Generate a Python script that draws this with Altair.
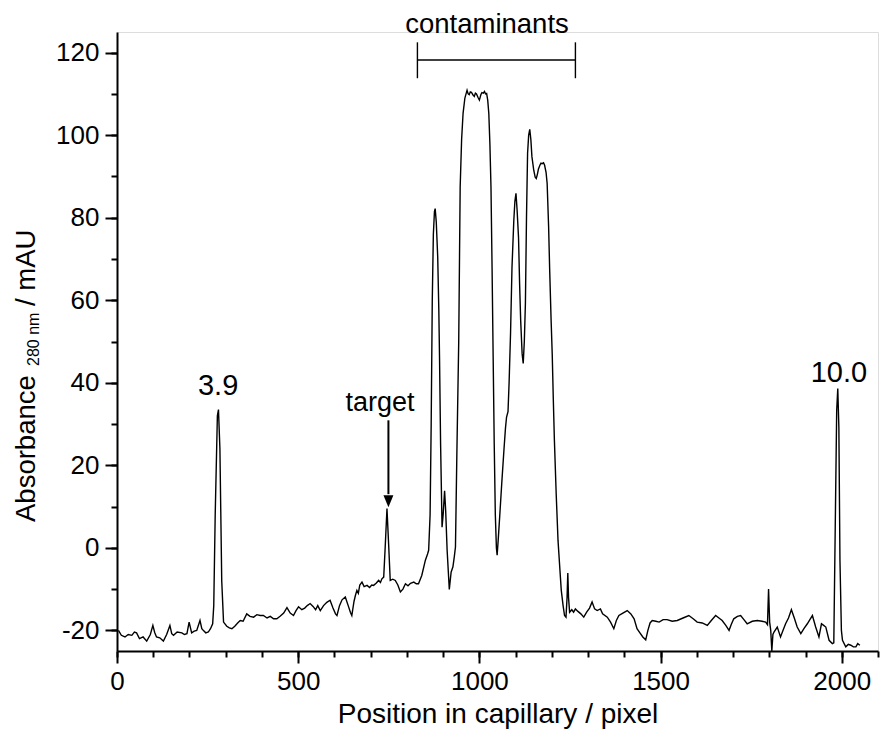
import altair as alt
import pandas as pd

# ---- data ----
position = [4, 12, 22, 31, 41, 48, 54, 62, 72, 82, 92, 99, 104, 109, 118, 128, 137, 146, 151, 156, 166, 179, 186, 193, 199, 206, 213, 220, 229, 234, 238, 245, 252, 258, 264, 267, 271, 277, 280, 284, 289, 294, 303, 310, 317, 325, 333, 340, 348, 358, 367, 377, 386, 395, 404, 414, 423, 432, 441, 450, 460, 469, 478, 487, 494, 501, 510, 518, 525, 533, 541, 548, 554, 561, 570, 579, 588, 596, 603, 607, 614, 621, 630, 638, 644, 648, 654, 658, 662, 666, 670, 676, 682, 690, 697, 703, 708, 715, 722, 727, 731, 736, 740, 745, 750, 754, 761, 768, 775, 782, 789, 796, 803, 810, 819, 826, 832, 841, 851, 857, 860, 864, 867, 870, 873, 876, 878, 881, 885, 888, 890, 893, 897, 900, 904, 907, 911, 917, 922, 927, 931, 934, 938, 943, 947, 951, 955, 960, 966, 969, 972, 975, 978, 982, 986, 989, 992, 996, 1000, 1004, 1007, 1011, 1014, 1017, 1020, 1023, 1026, 1029, 1032, 1035, 1038, 1041, 1044, 1047, 1049, 1052, 1056, 1062, 1068, 1072, 1075, 1079, 1082, 1086, 1090, 1095, 1098, 1101, 1104, 1108, 1111, 1114, 1118, 1121, 1124, 1127, 1130, 1133, 1136, 1139, 1142, 1145, 1150, 1154, 1157, 1160, 1163, 1167, 1170, 1173, 1177, 1180, 1184, 1187, 1191, 1194, 1198, 1201, 1204, 1207, 1212, 1217, 1222, 1226, 1231, 1235, 1239, 1242, 1244, 1246, 1249, 1255, 1260, 1265, 1272, 1280, 1288, 1296, 1304, 1311, 1318, 1325, 1334, 1340, 1353, 1362, 1371, 1378, 1385, 1396, 1408, 1418, 1427, 1435, 1443, 1451, 1459, 1465, 1471, 1477, 1487, 1496, 1507, 1518, 1532, 1546, 1562, 1578, 1590, 1601, 1615, 1629, 1640, 1652, 1661, 1670, 1680, 1689, 1695, 1702, 1712, 1721, 1730, 1739, 1753, 1767, 1780, 1790, 1795, 1798, 1801, 1804, 1807, 1810, 1813, 1822, 1831, 1838, 1845, 1853, 1861, 1869, 1877, 1887, 1896, 1905, 1912, 1919, 1928, 1937, 1944, 1950, 1956, 1965, 1974, 1978, 1982, 1986, 1989, 1992, 1995, 1999, 2002, 2011, 2018, 2025, 2032, 2039, 2044, 2050]
absorbance = [-20.0, -21.2, -21.6, -21.0, -21.2, -20.4, -20.6, -22.0, -21.6, -22.6, -21.0, -18.8, -20.5, -21.6, -21.8, -22.6, -21.0, -18.8, -20.8, -21.2, -20.4, -20.6, -21.0, -20.8, -18.0, -20.6, -20.2, -20.0, -17.6, -19.6, -20.0, -20.6, -20.4, -19.6, -18.4, -14.0, 8.0, 32.0, 33.5, 24.0, -8.0, -18.0, -19.0, -19.4, -19.6, -19.0, -18.2, -17.6, -17.8, -16.0, -16.6, -16.8, -16.2, -16.4, -16.4, -17.0, -16.6, -17.2, -17.2, -16.6, -15.8, -14.5, -15.8, -16.4, -15.2, -14.3, -15.0, -14.6, -14.0, -13.5, -14.2, -15.0, -14.0, -15.2, -14.0, -13.2, -12.7, -14.6, -16.0, -16.4, -14.0, -12.6, -11.9, -14.0, -15.6, -16.4, -13.0, -11.5, -10.3, -11.0, -9.0, -8.3, -9.4, -9.1, -9.6, -9.0, -9.1, -8.6, -7.9, -8.4, -7.5, -7.1, 0.0, 9.5, 0.0, -7.9, -7.6, -7.9, -9.0, -10.7, -10.0, -8.7, -9.2, -8.6, -8.3, -8.7, -8.7, -6.7, -3.0, -1.5, -0.6, 8.0, 30.0, 60.0, 76.0, 81.5, 82.2, 79.0, 70.5, 58.0, 46.3, 25.0, 5.0, 8.0, 13.8, 9.0, -0.6, -10.1, -5.9, -4.6, -2.0, 0.2, 23.6, 50.0, 87.5, 99.0, 105.3, 109.0, 110.9, 110.0, 109.8, 110.5, 110.4, 109.8, 109.4, 110.2, 110.0, 109.2, 108.5, 109.8, 110.3, 110.2, 110.6, 110.0, 110.1, 108.5, 105.3, 98.0, 87.5, 68.0, 46.3, 25.0, 8.0, 0.0, -1.8, 2.0, 7.5, 16.0, 24.0, 29.0, 31.7, 33.0, 40.0, 52.0, 68.0, 79.3, 84.0, 85.9, 82.0, 75.3, 64.0, 55.0, 47.0, 44.7, 50.0, 59.2, 80.0, 95.6, 100.0, 101.4, 99.0, 94.8, 91.5, 89.8, 89.5, 90.5, 91.8, 92.7, 93.2, 93.1, 93.3, 92.7, 91.0, 88.3, 78.0, 67.3, 55.0, 47.0, 36.0, 26.1, 13.0, 1.8, -5.0, -10.3, -14.0, -16.4, -16.8, -12.0, -6.1, -12.0, -15.6, -15.0, -15.6, -14.8, -15.4, -16.0, -16.8, -15.6, -14.6, -13.1, -14.8, -15.2, -14.8, -16.0, -16.8, -18.0, -19.6, -17.6, -16.4, -15.8, -15.2, -16.0, -17.2, -19.6, -20.6, -21.6, -22.3, -20.0, -18.2, -17.6, -17.8, -18.0, -17.4, -17.4, -17.8, -17.6, -17.0, -16.4, -17.2, -18.0, -18.2, -18.8, -17.6, -16.4, -17.0, -17.6, -18.8, -20.0, -18.6, -17.2, -16.6, -16.4, -17.4, -18.4, -17.8, -17.6, -17.8, -18.0, -18.6, -10.0, -18.0, -20.0, -25.0, -21.0, -20.4, -19.2, -21.6, -20.0, -18.4, -17.0, -15.0, -17.0, -19.2, -20.8, -19.5, -18.4, -17.4, -16.4, -19.2, -21.6, -18.4, -18.8, -19.2, -22.4, -23.2, -23.0, 5.0, 33.3, 38.6, 29.3, -3.0, -20.0, -22.4, -24.0, -23.4, -23.6, -24.0, -24.0, -23.2, -23.6]

x_major = [0, 500, 1000, 1500, 2000]
x_minor = list(range(0, 2101, 100))
y_major = [-20, 0, 20, 40, 60, 80, 100, 120]
y_minor = list(range(-20, 121, 10))

peak_labels = ["3.9", "10.0"]
peak_label_x = [279, 1992]
peak_label_y = [37.0, 40.1]

target_label = "target"
target_x = 749
target_label_x = 726
target_label_y = 33.1
arrow_top = 30.9
arrow_bottom = 13.0
arrow_head_y = 11.3

bracket_label = "contaminants"
bracket_x1, bracket_x2 = 829, 1265
bracket_label_x = 1021
bracket_y = 118.2
bracket_y_lo, bracket_y_hi = 113.8, 122.5
bracket_label_y = 124.7

FONT = "Liberation Sans"
W, H = 761, 619
NOAX = dict(axis=None)

df = pd.DataFrame({"pos": position, "abs": absorbance})

xs = alt.Scale(domain=[0, 2100], nice=False, zero=False)
ys = alt.Scale(domain=[-25, 125], nice=False, zero=False)

axis_common = dict(domainColor="black", domainWidth=2, tickColor="black", tickWidth=2,
                   labelColor="black", labelFont=FONT, labelFontSize=26, grid=False,
                   labelExpr="'' + datum.value", labelFlush=False, labelOverlap=False,
                   titleFont=FONT, titleFontSize=28, titleFontWeight="normal", titleColor="black")

line = alt.Chart(df).mark_line(color="black", strokeWidth=1.4).encode(
    x=alt.X("pos:Q", scale=xs, axis=alt.Axis(values=x_major, tickSize=12, labelPadding=5,
                                             title="Position in capillary / pixel", titlePadding=6,
                                             orient="bottom", **axis_common)),
    y=alt.Y("abs:Q", scale=ys, axis=alt.Axis(values=y_major, tickSize=12, labelPadding=6,
                                             title=None, orient="left", **axis_common)),
)

minor = alt.Chart(df).mark_point(opacity=0).encode(
    x=alt.X("pos:Q", scale=xs, axis=alt.Axis(values=x_minor, tickSize=6, labels=False, domain=False,
                                             title=None, orient="bottom", tickColor="black", tickWidth=2, grid=False)),
    y=alt.Y("abs:Q", scale=ys, axis=alt.Axis(values=y_minor, tickSize=6, labels=False, domain=False,
                                             title=None, orient="left", tickColor="black", tickWidth=2, grid=False)),
)

# annotations
lab_df = pd.DataFrame({"t": peak_labels, "x": peak_label_x, "y": peak_label_y})
peak_text = alt.Chart(lab_df).mark_text(font=FONT, fontSize=29, color="black", baseline="alphabetic").encode(
    x=alt.X("x:Q", scale=xs, **NOAX), y=alt.Y("y:Q", scale=ys, **NOAX), text="t:N")

tgt_df = pd.DataFrame({"t": [target_label], "x": [target_x], "xl": [target_label_x], "y": [target_label_y],
                       "y1": [arrow_top], "y2": [arrow_bottom], "yh": [arrow_head_y]})
tgt_text = alt.Chart(tgt_df).mark_text(font=FONT, fontSize=27, color="black", baseline="alphabetic").encode(
    x=alt.X("xl:Q", scale=xs, **NOAX), y=alt.Y("y:Q", scale=ys, **NOAX), text="t:N")
shaft = alt.Chart(tgt_df).mark_rule(color="black", strokeWidth=2).encode(
    x=alt.X("x:Q", scale=xs, **NOAX), y=alt.Y("y1:Q", scale=ys, **NOAX), y2="y2:Q")
head = alt.Chart(tgt_df).mark_point(shape="M-0.83,-1L0.83,-1L0,1Z", filled=True, color="black",
                                    opacity=1, size=144).encode(
    x=alt.X("x:Q", scale=xs, **NOAX), y=alt.Y("yh:Q", scale=ys, **NOAX))

br_df = pd.DataFrame({"x1": [bracket_x1], "x2": [bracket_x2], "y": [bracket_y],
                      "lo": [bracket_y_lo], "hi": [bracket_y_hi],
                      "xm": [bracket_label_x], "yl": [bracket_label_y], "t": [bracket_label]})
br_h = alt.Chart(br_df).mark_rule(color="black", strokeWidth=1.4).encode(
    x=alt.X("x1:Q", scale=xs, **NOAX), x2="x2:Q", y=alt.Y("y:Q", scale=ys, **NOAX))
br_l = alt.Chart(br_df).mark_rule(color="black", strokeWidth=1.4).encode(
    x=alt.X("x1:Q", scale=xs, **NOAX), y=alt.Y("lo:Q", scale=ys, **NOAX), y2="hi:Q")
br_r = alt.Chart(br_df).mark_rule(color="black", strokeWidth=1.4).encode(
    x=alt.X("x2:Q", scale=xs, **NOAX), y=alt.Y("lo:Q", scale=ys, **NOAX), y2="hi:Q")
br_t = alt.Chart(br_df).mark_text(font=FONT, fontSize=27.5, color="black", baseline="alphabetic").encode(
    x=alt.X("xm:Q", scale=xs, **NOAX), y=alt.Y("yl:Q", scale=ys, **NOAX), text="t:N")

# y-axis title with subscript, built from text pieces
yt_text = ["Absorbance", "280 nm", "/ mAU"]
yt_px = [-82, -78, -82]
yt_py = [490, 334, 274]
yt_fs = [27.5, 16, 27.5]
ytitle = alt.layer(*[
    alt.Chart(pd.DataFrame({"t": [yt_text[i]]})).mark_text(
        font=FONT, fontSize=yt_fs[i], color="black", angle=270, align="left", baseline="alphabetic"
    ).encode(x=alt.value(yt_px[i]), y=alt.value(yt_py[i]), text="t:N")
    for i in range(3)
])

chart = alt.layer(line, minor, peak_text, tgt_text, shaft, head, br_h, br_l, br_r, br_t, ytitle).resolve_axis(
    x="independent", y="independent"
).properties(
    width=W, height=H, padding={"left": 117, "top": 32, "right": 2, "bottom": 91}, autosize="none"
).configure_view(stroke=None).configure(background="white")

chart.save("out.html", embed_options={"renderer": "svg", "actions": False})
